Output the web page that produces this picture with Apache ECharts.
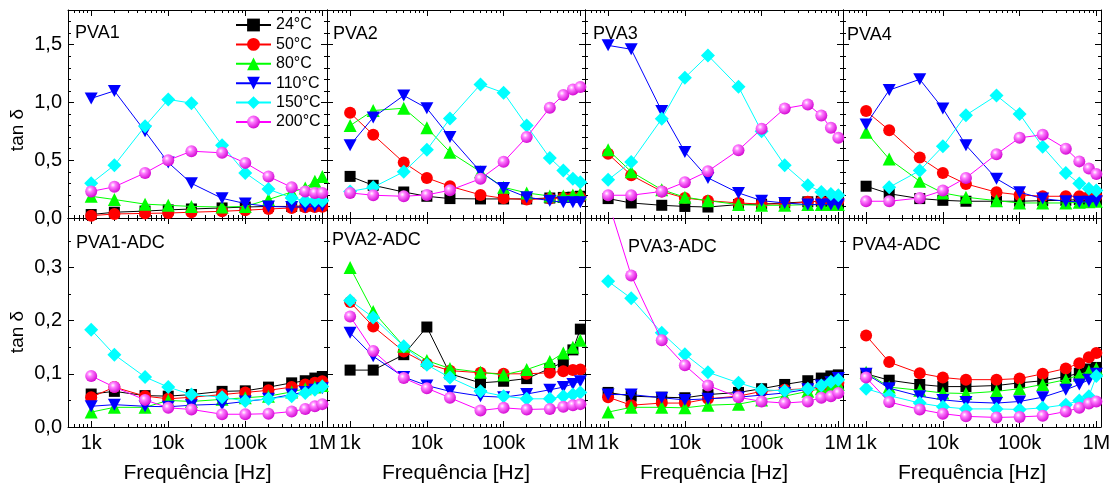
<!DOCTYPE html>
<html>
<head>
<meta charset="utf-8">
<script src="https://cdn.jsdelivr.net/npm/echarts@6/dist/echarts.min.js"></script>
<style>
  html, body { margin: 0; padding: 0; background: #ffffff; }
  #chart { width: 1115px; height: 495px; }
</style>
</head>
<body>
<div id="chart"></div>
<script>
// Measurement frequencies (Hz)
const frequencies = [1e3, 2e3, 5e3, 1e4, 2e4, 5e4, 1e5, 2e5, 4e5, 6e5, 8e5, 1e6];
const temperatures = ['24°C', '50°C', '80°C', '110°C', '150°C', '200°C'];
const panelTitles = ['PVA1', 'PVA2', 'PVA3', 'PVA4', 'PVA1-ADC', 'PVA2-ADC', 'PVA3-ADC', 'PVA4-ADC'];
const xTickLabels = { 3: '1k', 4: '10k', 5: '100k', 6: '1M' };
const yMaxTop = 1.8, yMaxBottom = 0.393;

// tan δ, one row per temperature: 24, 50, 80, 110, 150, 200 °C
const pva1 = [
  [0.030, 0.050, 0.060, 0.070, 0.078, 0.087, 0.095, 0.100, 0.100, 0.104, 0.107, 0.107],
  [0.020, 0.035, 0.040, 0.043, 0.050, 0.058, 0.067, 0.078, 0.087, 0.092, 0.095, 0.098],
  [0.188, 0.160, 0.120, 0.110, 0.100, 0.095, 0.100, 0.160, 0.225, 0.260, 0.318, 0.360],
  [1.035, 1.100, 0.750, 0.480, 0.300, 0.170, 0.125, 0.100, 0.095, 0.095, 0.100, 0.105],
  [0.300, 0.457, 0.795, 1.026, 0.994, 0.630, 0.390, 0.250, 0.173, 0.150, 0.150, 0.150],
  [0.230, 0.270, 0.390, 0.500, 0.578, 0.564, 0.477, 0.360, 0.266, 0.230, 0.217, 0.217]
];
const pva2 = [
  [0.360, 0.283, 0.225, 0.188, 0.168, 0.165, 0.165, 0.165, 0.173, 0.178, 0.180, 0.188],
  [0.910, 0.720, 0.480, 0.347, 0.275, 0.200, 0.170, 0.160, 0.168, 0.175, 0.178, 0.180],
  [0.800, 0.930, 0.950, 0.780, 0.570, 0.400, 0.266, 0.217, 0.190, 0.190, 0.200, 0.210],
  [0.630, 0.870, 1.060, 0.950, 0.700, 0.400, 0.260, 0.180, 0.150, 0.136, 0.136, 0.136],
  [0.230, 0.266, 0.400, 0.590, 0.860, 1.156, 1.084, 0.800, 0.520, 0.410, 0.340, 0.310],
  [0.217, 0.197, 0.188, 0.200, 0.240, 0.340, 0.486, 0.700, 0.954, 1.064, 1.113, 1.133]
];
const pva3 = [
  [0.168, 0.130, 0.110, 0.100, 0.095, 0.116, 0.120, 0.130, 0.140, 0.145, 0.145, 0.145],
  [0.555, 0.370, 0.230, 0.173, 0.150, 0.130, 0.121, 0.121, 0.140, 0.145, 0.150, 0.150],
  [0.590, 0.400, 0.245, 0.180, 0.150, 0.116, 0.110, 0.110, 0.116, 0.116, 0.116, 0.116],
  [1.494, 1.460, 0.925, 0.572, 0.347, 0.217, 0.150, 0.130, 0.116, 0.116, 0.116, 0.116],
  [0.330, 0.485, 0.858, 1.214, 1.407, 1.136, 0.750, 0.457, 0.283, 0.225, 0.208, 0.197],
  [0.197, 0.197, 0.230, 0.310, 0.405, 0.587, 0.772, 0.948, 0.983, 0.887, 0.780, 0.694]
];
const pva4 = [
  [0.275, 0.210, 0.168, 0.153, 0.145, 0.145, 0.145, 0.150, 0.153, 0.160, 0.160, 0.160],
  [0.925, 0.760, 0.523, 0.390, 0.295, 0.223, 0.200, 0.188, 0.188, 0.188, 0.188, 0.188],
  [0.743, 0.510, 0.318, 0.217, 0.180, 0.150, 0.130, 0.130, 0.130, 0.136, 0.140, 0.145],
  [0.810, 1.107, 1.200, 0.948, 0.630, 0.340, 0.223, 0.168, 0.145, 0.140, 0.140, 0.145],
  [null,  0.266, 0.410, 0.620, 0.890, 1.060, 0.900, 0.616, 0.390, 0.298, 0.254, 0.237],
  [0.145, 0.145, 0.173, 0.237, 0.347, 0.552, 0.694, 0.720, 0.600, 0.490, 0.428, 0.380]
];
const pva1Adc = [
  [0.062, 0.067, 0.059, 0.058, 0.061, 0.067, 0.068, 0.075, 0.083, 0.087, 0.092, 0.095],
  [0.056, 0.075, 0.058, 0.053, 0.056, 0.061, 0.065, 0.069, 0.075, 0.080, 0.083, 0.086],
  [0.028, 0.037, 0.037, 0.050, 0.048, 0.052, 0.055, 0.058, 0.066, 0.072, 0.075, 0.078],
  [0.039, 0.042, 0.039, 0.038, 0.041, 0.043, 0.048, 0.053, 0.061, 0.066, 0.070, 0.073],
  [0.183, 0.136, 0.094, 0.075, 0.061, 0.056, 0.049, 0.053, 0.058, 0.064, 0.070, 0.076],
  [0.096, 0.075, 0.051, 0.036, 0.033, 0.024, 0.024, 0.025, 0.029, 0.034, 0.039, 0.043]
];
const pva2Adc = [
  [0.107, 0.107, 0.136, 0.188, 0.100, 0.083, 0.086, 0.091, 0.110, 0.122, 0.145, 0.184],
  [0.235, 0.189, 0.142, 0.119, 0.106, 0.102, 0.100, 0.100, 0.102, 0.105, 0.107, 0.108],
  [0.300, 0.217, 0.152, 0.125, 0.110, 0.103, 0.098, 0.108, 0.123, 0.139, 0.150, 0.163],
  [0.177, 0.133, 0.094, 0.078, 0.067, 0.058, 0.056, 0.062, 0.070, 0.075, 0.081, 0.086],
  [0.238, 0.206, 0.152, 0.117, 0.093, 0.067, 0.058, 0.053, 0.053, 0.058, 0.061, 0.065],
  [0.208, 0.143, 0.092, 0.073, 0.055, 0.031, 0.036, 0.033, 0.034, 0.038, 0.041, 0.043]
];
const pva3Adc = [
  [0.065, 0.058, 0.056, 0.055, 0.061, 0.065, 0.072, 0.080, 0.087, 0.092, 0.096, 0.098],
  [0.056, 0.041, 0.045, 0.045, 0.053, 0.058, 0.067, 0.070, 0.072, 0.075, 0.078, 0.083],
  [0.028, 0.037, 0.037, 0.036, 0.041, 0.043, 0.051, 0.058, 0.067, 0.072, 0.075, 0.080],
  [0.061, 0.061, 0.055, 0.051, 0.053, 0.056, 0.060, 0.064, 0.071, 0.078, 0.084, 0.092],
  [0.274, 0.242, 0.177, 0.137, 0.103, 0.083, 0.070, 0.068, 0.072, 0.078, 0.085, 0.089],
  [0.424, 0.285, 0.163, 0.116, 0.078, 0.056, 0.048, 0.045, 0.048, 0.055, 0.058, 0.064]
];
const pva4Adc = [
  [0.100, 0.088, 0.080, 0.076, 0.076, 0.078, 0.083, 0.087, 0.095, 0.101, 0.109, 0.112],
  [0.172, 0.122, 0.101, 0.093, 0.089, 0.089, 0.091, 0.100, 0.110, 0.120, 0.131, 0.139],
  [0.103, 0.075, 0.069, 0.064, 0.063, 0.067, 0.072, 0.080, 0.089, 0.098, 0.105, 0.110],
  [0.100, 0.073, 0.058, 0.051, 0.047, 0.045, 0.048, 0.056, 0.070, 0.080, 0.089, 0.100],
  [0.072, 0.059, 0.045, 0.038, 0.034, 0.034, 0.033, 0.036, 0.042, 0.050, 0.058, 0.096],
  [0.093, 0.047, 0.033, 0.025, 0.020, 0.018, 0.019, 0.021, 0.029, 0.036, 0.044, 0.048]
];
const panels = [pva1, pva2, pva3, pva4, pva1Adc, pva2Adc, pva3Adc, pva4Adc];

const FONT = '"Liberation Sans", Arial, Helvetica, sans-serif';
const xMin = 500, xMax = 1.15e6;
const colLeft = [68, 327, 585, 843];
const colWidth = [259, 258, 258, 258];
const rowTop = [10, 218];
const rowHeight = [208, 209];

const colors = ['#000000', '#ff0000', '#00ff00', '#0000ff', '#00ffff', '#ff00ff'];
const sphere = {
  type: 'radial', x: 0.38, y: 0.35, r: 0.7,
  colorStops: [
    { offset: 0, color: '#ffffff' },
    { offset: 0.3, color: '#ff7cff' },
    { offset: 1, color: '#d000d0' }
  ]
};
const markers = [
  { symbol: 'rect', size: 11, fill: colors[0] },
  { symbol: 'circle', size: 12, fill: colors[1] },
  { symbol: 'triangle', size: 13, fill: colors[2] },
  { symbol: 'path://M0,0 L10,0 L5,9 Z', size: [13, 12], fill: colors[3] },
  { symbol: 'diamond', size: 14, fill: colors[4] },
  { symbol: 'circle', size: 12, fill: sphere }
];

// minor tick positions (2..9 per decade) in log10 units
const minorLog = [];
for (let d = 2; d <= 6; d++) {
  for (let k = 2; k <= 9; k++) {
    const f = k * Math.pow(10, d);
    if (f > xMin && f < xMax) minorLog.push(Math.log10(f));
  }
}

const isWhole = (v, step) => Math.abs(v / step - Math.round(v / step)) < 1e-6;
const black = { color: '#000000', width: 1 };

const grids = [], xAxes = [], yAxes = [], series = [], graphics = [];

panels.forEach((rows, p) => {
  const r = p < 4 ? 0 : 1, c = p % 4;
  const bottomRow = r === 1;
  grids.push({ left: colLeft[c], top: rowTop[r], width: colWidth[c], height: rowHeight[r], containLabel: false });

  // main logarithmic frequency axis (bottom) and its mirror (top)
  ['bottom', 'top'].forEach(pos => {
    const labelled = pos === 'bottom' && bottomRow;
    xAxes.push({
      type: 'log', logBase: 10, gridIndex: p, position: pos, min: xMin, max: xMax,
      axisLine: { show: true, onZero: false, lineStyle: black },
      axisTick: { show: true, inside: true, length: 6, lineStyle: black },
      minorTick: { show: false },
      splitLine: { show: false },
      axisLabel: {
        show: labelled, margin: 6, fontSize: 20, color: '#000', fontFamily: FONT,
        formatter: v => {
          const e = Math.log10(v);
          return isWhole(e, 1) ? (xTickLabels[Math.round(e)] || '') : '';
        }
      },
      name: labelled ? 'Frequência [Hz]' : '',
      nameLocation: 'middle', nameGap: 36,
      nameTextStyle: { fontSize: 21, color: '#000', fontFamily: FONT }
    });
  });
  // decade subdivisions
  ['bottom', 'top'].forEach(pos => {
    xAxes.push({
      type: 'value', gridIndex: p, position: pos,
      min: Math.log10(xMin), max: Math.log10(xMax),
      axisLine: { show: false, onZero: false },
      axisTick: { show: true, inside: true, length: 3, lineStyle: black, customValues: minorLog },
      axisLabel: { show: false },
      splitLine: { show: false }
    });
  });

  // tan δ axis (left) and its mirror (right)
  const yMax = bottomRow ? yMaxBottom : yMaxTop;
  const step = bottomRow ? 0.1 : 0.5;
  ['left', 'right'].forEach(pos => {
    yAxes.push({
      type: 'value', gridIndex: p, position: pos, min: 0, max: yMax, interval: step,
      axisLine: { show: true, onZero: false, lineStyle: black },
      axisTick: { show: true, inside: true, length: 6, lineStyle: black },
      minorTick: { show: true, splitNumber: bottomRow ? 2 : 5, length: 3, lineStyle: black },
      splitLine: { show: false },
      minorSplitLine: { show: false },
      axisLabel: {
        show: pos === 'left' && c === 0, margin: 6, fontSize: 20, color: '#000', fontFamily: FONT,
        formatter: v => isWhole(v, step) ? v.toFixed(1).replace('.', ',') : ''
      }
    });
  });

  rows.forEach((vals, t) => {
    const m = markers[t];
    series.push({
      type: 'line', name: temperatures[t],
      xAxisIndex: 4 * p, yAxisIndex: 2 * p,
      data: frequencies.map((f, i) => [f, vals[i]]),
      symbol: m.symbol, symbolSize: m.size,
      itemStyle: { color: m.fill, borderWidth: 0 },
      lineStyle: { color: colors[t], width: 1 },
      clip: true, animation: false, z: 2 + t
    });
  });
});

// panel titles
const titlePos = [[75, 33], [333, 34], [593, 34], [847, 35], [76, 243], [332, 240], [628, 247], [852, 245]];
panelTitles.forEach((txt, i) => {
  graphics.push({
    type: 'text', x: titlePos[i][0], y: titlePos[i][1], z: 100,
    style: { text: txt, fill: '#000', font: '18px ' + FONT, verticalAlign: 'middle', align: 'left' }
  });
});
// y axis titles
[[18, 130], [18, 332]].forEach(([x, y]) => {
  graphics.push({
    type: 'text', x: x, y: y, rotation: Math.PI / 2, z: 100,
    style: { text: 'tan δ', fill: '#000', font: '19px ' + FONT, align: 'center', verticalAlign: 'middle' }
  });
});

const chart = echarts.init(document.getElementById('chart'), null, { renderer: 'canvas' });
chart.setOption({
  animation: false,
  backgroundColor: '#ffffff',
  textStyle: { fontFamily: FONT },
  grid: grids,
  xAxis: xAxes,
  yAxis: yAxes,
  series: series,
  graphic: graphics,
  legend: {
    data: temperatures,
    orient: 'vertical', left: 235, top: 17, padding: 0,
    itemWidth: 35, itemHeight: 16, itemGap: 3.4,
    textStyle: { fontSize: 16, color: '#000', fontFamily: FONT },
    selectedMode: false
  }
});
</script>
</body>
</html>
